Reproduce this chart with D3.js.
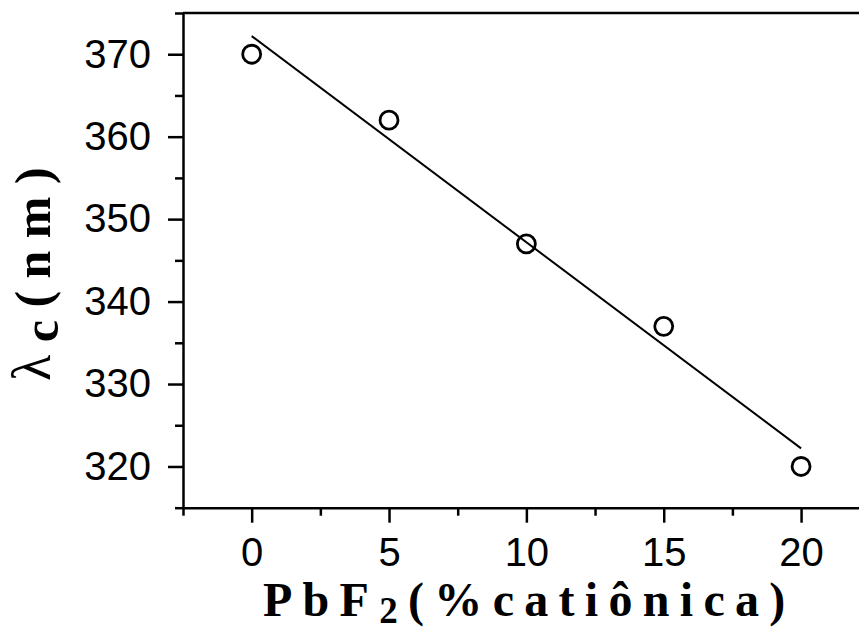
<!DOCTYPE html>
<html>
<head>
<meta charset="utf-8">
<script src="https://cdn.jsdelivr.net/npm/d3@7"></script>
<style>
  html, body { margin: 0; padding: 0; background: #fff; }
  svg { display: block; }
</style>
</head>
<body>
<svg id="chart" width="859" height="631"></svg>
<script>
// ---- data ----
const xValues = [0, 5, 10, 15, 20];
const yValues = [370, 362, 347, 337, 320];
const fitX = [0, 20];
const fitY = [372.2, 322.2];
const xMajorTicks = [0, 5, 10, 15, 20];
const xMinorTicks = [-2.5, 2.5, 7.5, 12.5, 17.5, 22.5];
const yMajorTicks = [320, 330, 340, 350, 360, 370];
const yMinorTicks = [315, 325, 335, 345, 355, 365, 375];
const xDomain = [-2.5, 22.5];
const yDomain = [315, 375];

const svg = d3.select("#chart");
svg.append("rect").attr("width", 859).attr("height", 631).attr("fill", "#fff");

const x = d3.scaleLinear().domain(xDomain).range([183, 869.75]);
const y = d3.scaleLinear().domain(yDomain).range([507.7, 13]);

const tickFont = "'Liberation Sans', Arial, sans-serif";

// x axis major
const gx = svg.append("g").attr("transform", `translate(0,${y(yDomain[0])})`)
  .call(d3.axisBottom(x).tickValues(xMajorTicks).tickSize(15).tickSizeOuter(0).tickPadding(15).tickFormat(d3.format("d")));
const gxm = svg.append("g").attr("transform", `translate(0,${y(yDomain[0])})`)
  .call(d3.axisBottom(x).tickValues(xMinorTicks).tickSize(8).tickSizeOuter(0).tickFormat(""));
gxm.select(".domain").remove();

// y axis
const gy = svg.append("g").attr("transform", `translate(${x(xDomain[0])},0)`)
  .call(d3.axisLeft(y).tickValues(yMajorTicks).tickSize(15).tickSizeOuter(0).tickPadding(17).tickFormat(d3.format("d")));
const gym = svg.append("g").attr("transform", `translate(${x(xDomain[0])},0)`)
  .call(d3.axisLeft(y).tickValues(yMinorTicks).tickSize(8).tickSizeOuter(0).tickFormat(""));
gym.select(".domain").remove();

[gx, gxm, gy, gym].forEach(g => {
  g.selectAll("path, line").attr("stroke", "#000").attr("stroke-width", 2.5);
  g.selectAll("text").attr("font-family", tickFont).attr("font-size", 40).attr("fill", "#000");
});

// top frame line
svg.append("line")
  .attr("x1", x(xDomain[0])).attr("x2", x(xDomain[1]))
  .attr("y1", y(yDomain[1])).attr("y2", y(yDomain[1]))
  .attr("stroke", "#000").attr("stroke-width", 2.5);

// fit line
svg.append("line")
  .attr("x1", x(fitX[0])).attr("y1", y(fitY[0]))
  .attr("x2", x(fitX[1])).attr("y2", y(fitY[1]))
  .attr("stroke", "#000").attr("stroke-width", 2);

// points
svg.append("g").selectAll("circle")
  .data(xValues.map((v, i) => [v, yValues[i]]))
  .join("circle")
  .attr("cx", d => x(d[0])).attr("cy", d => y(d[1]))
  .attr("r", 9).attr("fill", "none").attr("stroke", "#000").attr("stroke-width", 2.8);

// x label
const serif = "'Liberation Serif', 'Times New Roman', serif";
const xl = svg.append("text")
  .attr("x", 263).attr("y", 616)
  .attr("font-family", serif).attr("font-weight", "bold").attr("font-size", 48)
  .attr("letter-spacing", 10.3).attr("fill", "#000");
xl.append("tspan").text("PbF");
xl.append("tspan").attr("font-size", 37).attr("dy", 7).text("2");
xl.append("tspan").attr("dy", -7).text("(%catiônica)");

// y label
const yl = svg.append("text")
  .attr("transform", "translate(50,381) rotate(-90)")
  .attr("font-family", serif).attr("font-weight", "bold").attr("font-size", 50)
  .attr("letter-spacing", 12.5).attr("fill", "#000");
yl.append("tspan").attr("font-weight", "normal").attr("font-size", 54).text("λ");
yl.append("tspan").attr("dy", 8).text("c");
yl.append("tspan").attr("dy", -8).text("(nm)");
</script>
</body>
</html>
